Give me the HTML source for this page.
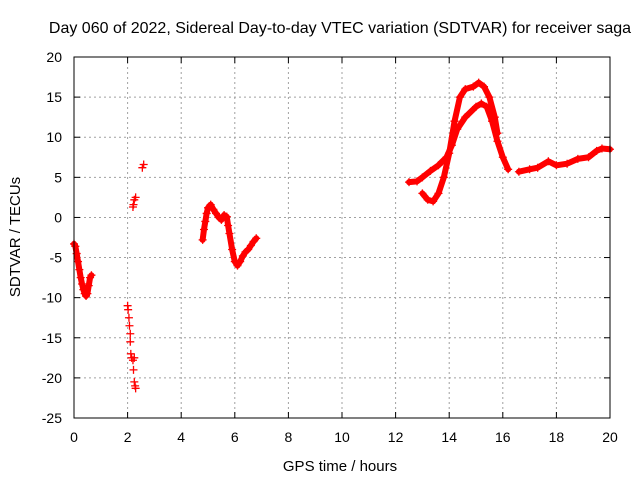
<!DOCTYPE html>
<html><head><meta charset="utf-8"><style>
body{margin:0;background:#fff}
svg{display:block;font-family:"Liberation Sans",sans-serif}
</style></head><body>
<svg id="chart" width="640" height="480" viewBox="0 0 640 480" xmlns="http://www.w3.org/2000/svg">
<rect width="640" height="480" fill="#fff"/>
<text x="340" y="33" font-size="16" text-anchor="middle">Day 060 of 2022, Sidereal Day-to-day VTEC variation (SDTVAR) for receiver saga</text>
<g id="grid"></g>
<g id="ticks"></g>
<g id="series"></g>
<rect x="74" y="57" width="536" height="361" fill="none" stroke="#000" stroke-width="1"/>
<text x="340" y="471" font-size="15" text-anchor="middle">GPS time / hours</text>
<text x="20" y="237" font-size="15" text-anchor="middle" transform="rotate(-90 20 237)">SDTVAR / TECUs</text>
</svg>
<script>
const xTicks=[0,2,4,6,8,10,12,14,16,18,20];
const yTicks=[20,15,10,5,0,-5,-10,-15,-20,-25];
const segA=[[0,-3.3],[0.05,-3.6],[0.1,-4.5],[0.15,-5.5],[0.2,-6.5],[0.25,-7.5],[0.3,-8.3],[0.35,-9],[0.4,-9.5],[0.45,-9.8],[0.5,-9.5],[0.55,-8.5],[0.6,-7.5],[0.65,-7.2]];
const sparse=[[2.0,-11],[2.02,-11.5],[2.05,-12.5],[2.07,-13.5],[2.1,-14.5],[2.1,-15.5],[2.12,-17],[2.15,-17.5],[2.2,-17.8],[2.25,-17.5],[2.22,-19],[2.25,-20.5],[2.28,-21],[2.3,-21.3],[2.2,1.3],[2.22,1.6],[2.25,2.2],[2.3,2.5],[2.55,6.2],[2.6,6.6]];
const segB=[[4.8,-2.8],[4.85,-1.5],[4.9,-0.5],[4.95,0.5],[5.0,1.2],[5.1,1.6],[5.2,1],[5.3,0.5],[5.4,0],[5.5,-0.3],[5.6,0.3],[5.7,0.1],[5.75,-1],[5.8,-2],[5.9,-4],[6.0,-5.5],[6.1,-6],[6.2,-5.5],[6.3,-4.8],[6.4,-4.3],[6.5,-4],[6.6,-3.5],[6.7,-3],[6.8,-2.6]];
const segC=[[12.5,4.4],[12.8,4.5],[13.0,5],[13.3,5.8],[13.6,6.5],[13.9,7.5],[14.1,9],[14.3,11],[14.6,12.5],[15.0,13.8],[15.2,14.2],[15.4,13.8],[15.6,12],[15.8,9.5],[16.0,7.5],[16.2,6]];
const segD=[[13.0,3],[13.2,2.2],[13.4,2],[13.6,3],[13.8,5],[14.0,8],[14.2,12],[14.4,15],[14.6,16],[14.9,16.3],[15.1,16.8],[15.3,16.3],[15.5,15],[15.7,12.5],[15.8,10.5]];
const segE=[[16.6,5.7],[17.0,6],[17.3,6.2],[17.7,7],[18.0,6.5],[18.4,6.7],[18.8,7.3],[19.2,7.5],[19.5,8.3],[19.7,8.6],[20.0,8.5]];
const NS="http://www.w3.org/2000/svg";
const X=v=>74+v/20*536, Y=v=>57+(20-v)/45*361;
function mk(tag,attrs,parent){const e=document.createElementNS(NS,tag);for(const k in attrs)e.setAttribute(k,attrs[k]);parent.appendChild(e);return e;}
const grid=document.getElementById('grid'),ticks=document.getElementById('ticks'),series=document.getElementById('series');
xTicks.forEach(t=>{
  if(t>0&&t<20){const l=mk('line',{x1:X(t),x2:X(t),y1:57,y2:418,stroke:'#a0a0a0','stroke-dasharray':'2,3'},grid);
  
  }
  mk('line',{x1:X(t),x2:X(t),y1:418,y2:412,stroke:'#000'},ticks);
  mk('line',{x1:X(t),x2:X(t),y1:57,y2:63,stroke:'#000'},ticks);
  const tx=mk('text',{x:X(t),y:442,'font-size':14,'text-anchor':'middle'},ticks);tx.textContent=t;
  
  
});
yTicks.forEach(t=>{
  if(t<20&&t>-25){const l=mk('line',{x1:74,x2:610,y1:Y(t),y2:Y(t),stroke:'#a0a0a0','stroke-dasharray':'2,3'},grid);
  
  }
  mk('line',{x1:74,x2:80,y1:Y(t),y2:Y(t),stroke:'#000'},ticks);
  mk('line',{x1:610,x2:604,y1:Y(t),y2:Y(t),stroke:'#000'},ticks);
  const tx=mk('text',{x:62,y:Y(t)+5,'font-size':14,'text-anchor':'end'},ticks);tx.textContent=t;
  
  
});
function plus(p){const x=X(p[0]),y=Y(p[1]);
  const m=mk('path',{d:`M${x-4},${y}H${x+4}M${x},${y-4}V${y+4}`,stroke:'#f00','stroke-width':1.3},series);
  
  }
[segA,segB,segC,segD,segE].forEach(s=>{
  const pl=mk('polyline',{points:s.map(p=>X(p[0])+','+Y(p[1])).join(' '),fill:'none',stroke:'#f00','stroke-width':6,'stroke-linejoin':'round','stroke-linecap':'round'},series);
  
  
  s.forEach(plus);
});
sparse.forEach(plus);
</script>
</body></html>
